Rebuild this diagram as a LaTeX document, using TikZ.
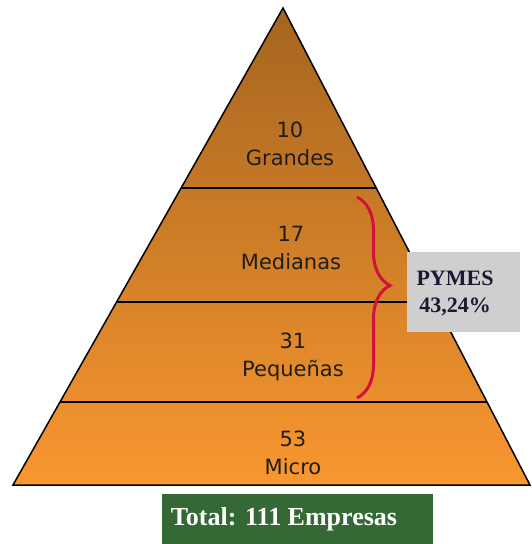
\documentclass[tikz,border=0pt]{standalone}
\usepackage{fontspec}
\setmainfont{Liberation Serif}
\newfontfamily\labfont{DejaVu Sans}
\usetikzlibrary{calc,decorations.pathreplacing}
\definecolor{pyrtop}{RGB}{165,101,31}
\definecolor{pyrbot}{RGB}{249,151,48}
\definecolor{bracered}{RGB}{210,18,60}
\definecolor{boxgray}{RGB}{207,207,207}
\definecolor{boxgreen}{RGB}{52,104,52}
\definecolor{labtext}{RGB}{30,30,20}
\definecolor{pymtext}{RGB}{25,25,50}
\begin{document}
\begin{tikzpicture}[x=1pt,y=-1pt,
  level/.style={font=\labfont\fontsize{21}{28}\selectfont, text=labtext, align=center, inner sep=0pt},
  divider/.style={line width=1.8pt, black},
  pymbox/.style={fill=boxgray, minimum width=113pt, minimum height=80pt, inner sep=0pt},
  pymtxt/.style={align=center, inner sep=0pt,
    font=\bfseries\fontsize{22}{27}\selectfont, text=pymtext},
  totbox/.style={fill=boxgreen, minimum width=271pt, minimum height=50pt, inner sep=0pt},
  tottxt/.style={inner sep=0pt, font=\bfseries\fontsize{26}{28}\selectfont, text=white},
  bracestyle/.style={draw=bracered, line width=3pt, decorate,
    decoration={brace, amplitude=33pt, aspect=0.44}}]
\useasboundingbox (0,0) rectangle (531,544);
\coordinate (apex) at (283,8);
\coordinate (bl) at (13,485);
\coordinate (br) at (530,485);
% pyramid body
\shade[top color=pyrtop, bottom color=pyrbot] (apex) -- (bl) -- (br) -- cycle;
% dividers
\coordinate (d1l) at ($(apex)!0.377!(bl)$);
\coordinate (d1r) at ($(apex)!0.377!(br)$);
\coordinate (d2l) at ($(apex)!0.616!(bl)$);
\coordinate (d2r) at ($(apex)!0.616!(br)$);
\coordinate (d3l) at ($(apex)!0.826!(bl)$);
\coordinate (d3r) at ($(apex)!0.826!(br)$);
\draw[divider] (d1l) -- (d1r);
\draw[divider] (d2l) -- (d2r);
\draw[divider] (d3l) -- (d3r);
\draw[line width=1.5pt, black, line join=miter] (apex) -- (bl) -- (br) -- cycle;
% labels
\node[level] (grandes) at (290,144) {10\\Grandes};
\node[level] (medianas) at (291,248) {17\\Medianas};
\node[level] (pequenas) at (293,357) {31\\Pequeñas};
\node[level] (micro) at (293,453) {53\\Micro};
% brace
\coordinate (bt) at (357,197);
\coordinate (bb) at (357,398);
\draw[bracestyle] (bt) -- (bb);
% PYMES box
\node[pymbox] (pymes) at (463.5,292) {};
\node[pymtxt] (pymestext) at (455,293) {PYMES\\43,24\%};
% total box
\node[totbox] (total) at (297.5,519) {};
\node[tottxt] (totaltext) at (284,519) {Total: 111 Empresas};
\end{tikzpicture}
\end{document}
